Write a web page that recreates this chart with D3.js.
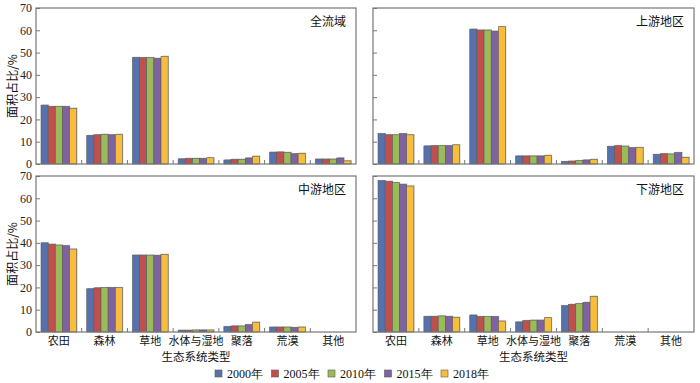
<!DOCTYPE html>
<html>
<head>
<meta charset="utf-8">
<script src="https://cdn.jsdelivr.net/npm/d3@7/dist/d3.min.js"></script>
<style>
  html, body { margin: 0; padding: 0; background: #fff; }
  svg { display: block; }
</style>
</head>
<body>
<svg id="chart" width="700" height="383"></svg>
<script>
// ---------------- DATA ----------------
const categories = ["农田", "森林", "草地", "水体与湿地", "聚落", "荒漠", "其他"];
const years = ["2000年", "2005年", "2010年", "2015年", "2018年"];
const panelNames = ["全流域", "上游地区", "中游地区", "下游地区"];
const yTickValues = [0, 10, 20, 30, 40, 50, 60, 70];
const xAxisTitle = "生态系统类型";
const yAxisTitle = "面积占比/%";

// values: [category][year]
const wholeBasin = [
  [26.4, 25.8, 25.8, 25.8, 25.0],
  [12.8, 13.1, 13.3, 13.1, 13.3],
  [47.8, 47.7, 47.7, 47.4, 48.3],
  [2.3, 2.5, 2.5, 2.5, 2.8],
  [1.8, 2.1, 2.1, 2.7, 3.5],
  [5.3, 5.4, 5.2, 4.6, 4.8],
  [2.2, 2.2, 2.2, 2.7, 1.4]
];
const upstream = [
  [13.6, 13.1, 13.1, 13.6, 13.1],
  [8.1, 8.2, 8.2, 8.2, 8.6],
  [60.5, 60.1, 60.1, 59.6, 61.6],
  [3.6, 3.6, 3.6, 3.6, 3.9],
  [1.1, 1.3, 1.5, 1.8, 2.1],
  [7.9, 8.2, 8.0, 7.3, 7.4],
  [4.3, 4.6, 4.5, 5.1, 3.0]
];
const midstream = [
  [40.0, 39.4, 39.0, 38.7, 37.2],
  [19.4, 19.8, 19.9, 19.9, 19.9],
  [34.5, 34.5, 34.5, 34.4, 34.8],
  [0.8, 0.8, 0.9, 0.9, 0.9],
  [2.4, 2.7, 2.7, 3.3, 4.4],
  [2.2, 2.2, 2.2, 2.0, 2.2],
  [0, 0, 0, 0, 0]
];
const downstream = [
  [67.9, 67.6, 67.0, 66.3, 65.5],
  [7.0, 7.0, 7.2, 7.0, 6.6],
  [7.6, 6.9, 6.9, 6.9, 4.9],
  [4.5, 5.1, 5.3, 5.3, 6.4],
  [11.8, 12.4, 12.7, 13.3, 16.0],
  [0, 0, 0, 0, 0],
  [0, 0, 0, 0, 0]
];
const panelData = [wholeBasin, upstream, midstream, downstream];
const colors = ["#5572ae", "#c0504d", "#9bbb59", "#7f62a1", "#f7be3c"];

// ---------------- LAYOUT ----------------
const svg = d3.select("#chart");
const frameColor = "#777";
const numFont = "'Liberation Serif', 'Times New Roman', serif";
const cjkFont = "'Noto Sans CJK SC', 'Liberation Serif', serif";

const panelBoxes = [
  { x: 36,  y: 8,   w: 320, h: 156, left: true,  bottom: false },
  { x: 373, y: 8,   w: 321, h: 156, left: false, bottom: false },
  { x: 36,  y: 176, w: 320, h: 156, left: true,  bottom: true },
  { x: 373, y: 176, w: 321, h: 156, left: false, bottom: true }
];

panelBoxes.forEach((box, pi) => {
  const g = svg.append("g").attr("transform", `translate(${box.x},${box.y})`);
  const x0 = d3.scaleBand().domain(categories).range([0, box.w]).padding(0);
  const x1 = d3.scaleBand().domain(years).range([0, x0.bandwidth()])
    .paddingInner(0).paddingOuter(0.7);
  const y = d3.scaleLinear().domain([0, 70]).range([box.h, 0]);

  // bars
  const data = panelData[pi];
  const groups = g.selectAll("g.cat").data(categories).enter().append("g")
    .attr("transform", d => `translate(${x0(d)},0)`);
  groups.each(function (cat, ci) {
    const vals = data[ci].map((v, yi) => ({ v, yi }));
    const sel = d3.select(this);
    // soft shadow
    sel.selectAll("rect.sh").data(vals.filter(d => d.v > 0)).enter().append("rect")
      .attr("x", d => x1(years[d.yi]) + 0.8)
      .attr("y", d => y(d.v) - 0.8)
      .attr("width", x1.bandwidth())
      .attr("height", d => box.h - y(d.v) + 0.8)
      .attr("fill", "#c8c8c8");
    sel.selectAll("rect.bar").data(vals.filter(d => d.v > 0)).enter().append("rect")
      .attr("x", d => x1(years[d.yi]))
      .attr("y", d => y(d.v))
      .attr("width", x1.bandwidth())
      .attr("height", d => box.h - y(d.v))
      .attr("fill", d => colors[d.yi])
      .attr("stroke", "#5a5a5a")
      .attr("stroke-width", 0.6);
  });

  // y axis (inner ticks)
  const yAxis = d3.axisLeft(y).tickValues(yTickValues)
    .tickSizeInner(-4).tickSizeOuter(0).tickPadding(4)
    .tickFormat(box.left ? d3.format("d") : () => "");
  const ya = g.append("g").call(yAxis);
  ya.select(".domain").remove();
  ya.selectAll("line").attr("stroke", frameColor);
  ya.selectAll("text").attr("font-family", numFont).attr("font-size", 12)
    .attr("fill", "#222");

  // x boundary ticks (inner, pointing up)
  const bounds = categories.slice(1).map(c => x0(c));
  g.selectAll("line.xt").data(bounds).enter().append("line")
    .attr("x1", d => d).attr("x2", d => d)
    .attr("y1", box.h).attr("y2", box.h - 4)
    .attr("stroke", frameColor).attr("stroke-width", 1);

  // frame
  g.append("rect").attr("x", 0).attr("y", 0).attr("width", box.w).attr("height", box.h)
    .attr("fill", "none").attr("stroke", frameColor).attr("stroke-width", 1.2);

  // panel label
  g.append("text").attr("x", box.w - 10).attr("y", 18)
    .attr("text-anchor", "end").attr("font-family", cjkFont).attr("font-size", 12)
    .attr("fill", "#111").text(panelNames[pi]);

  // category labels
  if (box.bottom) {
    g.selectAll("text.cat").data(categories).enter().append("text")
      .attr("x", d => x0(d) + x0.bandwidth() / 2)
      .attr("y", box.h + 13)
      .attr("text-anchor", "middle").attr("font-family", cjkFont).attr("font-size", 11)
      .attr("fill", "#111").text(d => d);
    g.append("text").attr("x", box.w / 2).attr("y", box.h + 29)
      .attr("text-anchor", "middle").attr("font-family", cjkFont).attr("font-size", 11.5)
      .attr("fill", "#111").text(xAxisTitle);
  }

  // y title
  if (box.left) {
    g.append("text")
      .attr("transform", `translate(${-23},${box.h / 2}) rotate(-90)`)
      .attr("dy", "0.35em")
      .attr("text-anchor", "middle").attr("font-family", cjkFont).attr("font-size", 12)
      .attr("fill", "#111").text(yAxisTitle);
  }
});

// legend
const legendX = d3.scalePoint().domain(years).range([215, 441]);
const lg = svg.append("g");
years.forEach((yr, i) => {
  const lx = legendX(yr);
  lg.append("rect").attr("x", lx).attr("y", 370).attr("width", 7).attr("height", 7)
    .attr("fill", colors[i]).attr("stroke", "#5a5a5a").attr("stroke-width", 0.6);
  lg.append("text").attr("x", lx + 12).attr("y", 377.5)
    .attr("font-family", numFont).attr("font-size", 12).attr("fill", "#111").text(yr);
});
</script>
</body>
</html>
